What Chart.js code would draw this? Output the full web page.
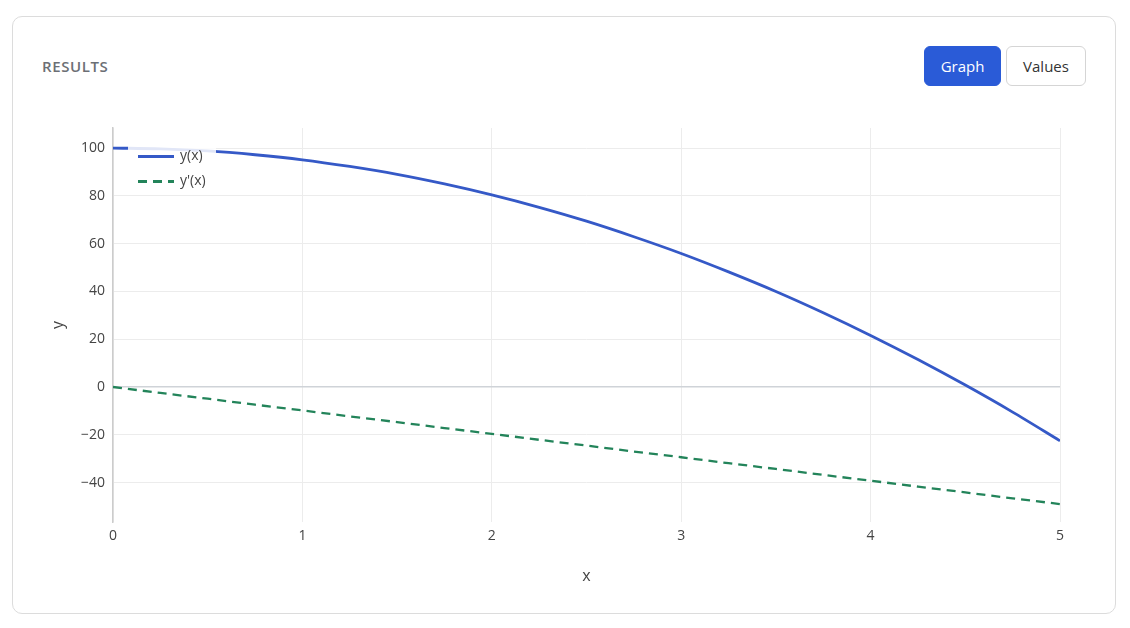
<!DOCTYPE html>
<html>
<head>
<meta charset="utf-8">
<script src="https://cdn.jsdelivr.net/npm/chart.js@4/dist/chart.umd.min.js"></script>
<style>
  body { margin: 0; width: 1130px; height: 628px; background: #fff; font-family: "Open Sans", "Noto Sans", sans-serif; position: relative; overflow: hidden; }
  .card { position: absolute; left: 12px; top: 16px; width: 1102px; height: 596px; border: 1px solid #dcdcdc; border-radius: 10px; }
  .head-title { position: absolute; left: 42px; top: 56px; font-size: 15px; font-weight: 600; color: #6c6f75; letter-spacing: 0.6px; }
  .btn { position: absolute; top: 46px; height: 38px; line-height: 38px; text-align: center; font-size: 15px; border-radius: 6px; }
  .btn-graph { left: 924px; width: 75px; background: #2a5bd7; color: #fff; border: 1px solid #2a5bd7; }
  .btn-values { left: 1006px; width: 78px; background: #fff; color: #333; border: 1px solid #d5d5d5; }
  .chart-box { position: absolute; left: 45px; top: 110px; width: 1045px; height: 480px; }
  .legend { position: absolute; left: 128px; top: 142px; width: 88px; height: 52px; background: rgba(255,255,255,0.85); font-size: 14px; color: #444; }
  .legend .row { position: absolute; left: 10px; height: 20px; }
  .legend .sample { position: absolute; left: 0; top: 10px; width: 36px; }
  .legend .label { position: absolute; left: 42px; top: 0; }
</style>
</head>
<body>
<div class="card"></div>
<div class="head-title">RESULTS</div>
<div class="btn btn-graph">Graph</div>
<div class="btn btn-values">Values</div>
<div class="chart-box"><canvas class="my-chart"></canvas></div>
<div class="legend">
  <div class="row" style="top:3px"><div class="sample" style="border-top:3px solid #3559c7"></div><div class="label">y(x)</div></div>
  <div class="row" style="top:28px"><div class="sample" style="height:2.5px;top:10px;background:repeating-linear-gradient(90deg,#23845a 0 9px,transparent 9px 15px)"></div><div class="label">y'(x)</div></div>
</div>
<script>
const xValues = [0, 0.25, 0.5, 0.75, 1, 1.25, 1.5, 1.75, 2, 2.25, 2.5, 2.75, 3, 3.25, 3.5, 3.75, 4, 4.25, 4.5, 4.75, 5];
const yValues = [100, 99.7, 98.8, 97.2, 95.1, 92.3, 89.0, 85.0, 80.4, 75.2, 69.4, 62.9, 55.9, 48.2, 40.0, 31.1, 21.6, 11.5, 0.8, -10.5, -22.5];
const dyValues = [0, -2.5, -4.9, -7.4, -9.8, -12.3, -14.7, -17.2, -19.6, -22.1, -24.5, -27.0, -29.4, -31.9, -34.3, -36.8, -39.2, -41.7, -44.1, -46.6, -49];
const xTicks = [0, 1, 2, 3, 4, 5];
const yTicks = [-40, -20, 0, 20, 40, 60, 80, 100];

const blue = "#3559c7";
const green = "#23845a";
const tickFont = { family: "Open Sans", size: 14 };

const myChart = document.querySelector(".my-chart");

new Chart(myChart, {
  type: "line",
  data: {
    datasets: [
      {
        label: "y(x)",
        data: xValues.map((x, i) => ({ x: x, y: yValues[i] })),
        borderColor: blue,
        borderWidth: 2.8,
        pointRadius: 0,
        tension: 0.3,
      },
      {
        label: "y'(x)",
        data: xValues.map((x, i) => ({ x: x, y: dyValues[i] })),
        borderColor: green,
        borderWidth: 2.3,
        borderDash: [9, 6],
        pointRadius: 0,
      },
    ],
  },
  options: {
    responsive: true,
    maintainAspectRatio: false,
    animation: false,
    layout: { padding: { top: 18, right: 30, left: 0, bottom: 0 } },
    plugins: { legend: { display: false }, tooltip: { enabled: false } },
    scales: {
      x: {
        type: "linear",
        min: 0,
        max: 5,
        afterBuildTicks: (s) => { s.ticks = xTicks.map((v) => ({ value: v })); },
        afterFit: (s) => { s.height = 68; },
        ticks: { color: "#444", font: tickFont, padding: 6 },
        grid: { color: "#ececec", drawTicks: false },
        border: { display: false },
        title: { display: true, text: "x", color: "#444", font: { family: "Open Sans", size: 16 } },
      },
      y: {
        min: -56.5,
        max: 108.4,
        afterBuildTicks: (s) => { s.ticks = yTicks.map((v) => ({ value: v })); },
        afterFit: (s) => { s.width = 68; },
        ticks: {
          color: "#444",
          font: tickFont,
          padding: 8,
          callback: (v) => (v < 0 ? "\u2212" + Math.abs(v) : v),
        },
        grid: {
          color: (c) => (c.tick && c.tick.value === 0 ? "#cfd3d8" : "#ececec"),
          lineWidth: (c) => (c.tick && c.tick.value === 0 ? 1.5 : 1),
          drawTicks: false,
        },
        border: { display: true, color: "#cccccc", width: 1.5 },
        title: { display: true, text: "y", color: "#444", font: { family: "Open Sans", size: 16 } },
      },
    },
  },
});
</script>
</body>
</html>
